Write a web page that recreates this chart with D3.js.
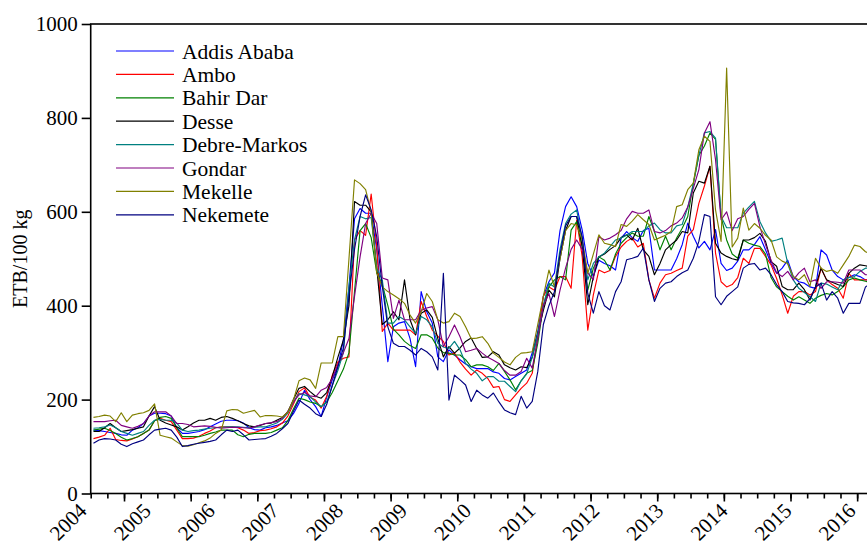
<!DOCTYPE html>
<html>
<head>
<meta charset="utf-8">
<script src="https://cdn.jsdelivr.net/npm/d3@7"></script>
<style>
  body { margin: 0; background: #fff; }
  text { font-family: "Liberation Serif", "Times New Roman", serif; }
</style>
</head>
<body>
<div id="chart"></div>
<script>
// monthly prices, ETB/100 kg, from 2004M01
const addisAbaba = [
  135,134,132,130,128,125,124,135,140,149,
  165,171,171,170,165,140,128,128,130,132,
  136,142,148,154,156,156,155,150,140,136,
  135,140,142,145,150,155,170,192,220,200,
  185,164,206,242,270,327,440,585,607,597,
  597,520,400,281,355,363,366,330,270,430,
  387,363,291,281,306,295,285,276,270,266,
  266,266,259,256,245,242,249,256,263,300,
  345,420,451,470,560,611,632,611,561,490,
  462,497,490,485,476,544,558,545,537,560,
  565,476,476,476,476,500,530,576,548,523,
  537,519,562,490,475,480,495,519,519,530,
  547,519,490,469,480,497,462,451,448,440,
  437,519,508,476,462,455,460,466,462,455,455];
const ambo = [
  117,120,124,139,115,113,112,116,121,128,
  135,155,160,156,153,135,117,117,118,122,
  128,133,140,142,142,142,140,135,128,130,
  134,135,138,142,150,165,190,217,225,205,
  199,182,207,252,280,288,291,540,560,550,
  638,526,345,363,348,348,348,348,338,409,
  377,348,335,324,295,299,280,265,252,263,
  256,245,226,228,200,196,210,224,235,256,
  334,420,440,433,462,462,437,582,504,348,
  423,476,470,475,505,525,537,544,525,533,
  455,416,448,466,469,475,480,548,562,618,
  655,697,512,451,440,445,460,501,490,522,
  522,505,487,458,423,384,420,430,430,423,
  430,480,455,445,437,416,469,455,455,455,455];
const bahirDar = [
  135,137,139,134,128,120,114,117,121,128,
  135,155,162,164,160,140,121,121,121,121,
  124,128,131,135,135,135,125,121,126,128,
  128,128,130,135,140,155,180,203,200,195,
  192,185,195,215,240,265,300,430,560,575,
  545,470,445,400,350,338,324,315,309,338,
  338,331,310,300,299,295,295,285,270,274,
  274,270,262,277,260,242,221,240,256,262,
  320,400,440,455,462,455,561,579,526,433,
  480,504,497,476,510,533,545,555,548,548,
  590,558,519,548,519,544,565,590,660,720,
  740,768,754,590,540,510,501,540,533,529,
  526,510,460,440,430,420,412,419,412,405,
  416,422,426,423,430,440,455,459,455,452,450];
const desse = [
  132,132,140,149,140,132,134,136,139,142,
  165,185,156,150,146,142,135,142,150,156,
  156,160,156,162,164,160,155,149,144,142,
  145,149,150,156,162,174,200,224,228,217,
  207,203,215,249,290,327,400,622,614,614,
  600,480,360,370,387,370,455,370,338,384,
  391,375,330,291,313,299,310,324,331,309,
  290,291,302,295,274,268,263,270,268,290,
  341,390,433,419,500,560,590,590,526,402,
  462,504,510,520,528,545,551,540,565,519,
  505,466,490,519,530,540,558,555,640,665,
  661,697,533,512,505,500,497,540,540,545,
  554,537,494,484,441,434,434,448,434,412,
  440,480,455,450,445,441,469,480,487,485,483];
const debreMarkos = [
  139,140,142,146,140,132,128,124,128,132,
  145,156,158,156,156,150,135,132,134,135,
  137,139,140,141,142,142,142,141,140,141,
  142,142,146,150,158,171,195,213,210,206,
  195,185,195,230,262,300,440,540,590,585,
  588,480,455,363,363,377,370,355,341,377,
  370,355,320,312,309,324,306,277,265,256,
  240,249,249,239,239,228,217,240,255,290,
  340,400,448,440,520,575,595,604,540,455,
  490,504,512,526,540,544,550,558,558,558,
  570,576,562,555,555,570,573,610,660,720,
  768,771,757,590,566,566,566,597,610,622,
  579,555,537,540,544,490,455,437,428,419,
  409,448,446,440,434,455,460,462,473,480,480];
const gondar = [
  153,153,153,155,156,145,142,139,143,149,
  165,174,174,174,165,149,149,147,142,143,
  144,143,141,139,140,141,141,140,139,142,
  146,149,151,153,160,175,195,210,215,208,
  206,220,226,245,275,300,330,420,504,575,
  597,575,459,455,373,412,370,370,370,390,
  395,398,370,313,334,359,334,302,305,309,
  299,290,284,277,262,252,252,260,288,267,
  330,400,426,377,433,480,520,540,520,470,
  455,547,540,544,551,560,585,601,597,597,
  604,558,555,560,570,576,587,610,650,690,
  768,792,711,583,600,560,585,590,605,618,
  568,530,497,470,462,473,455,470,480,451,
  455,437,451,451,450,448,476,476,476,466,466];
const mekelle = [
  162,164,167,165,153,172,153,167,170,172,
  177,191,124,121,118,110,102,101,104,108,
  112,118,128,135,176,179,178,171,174,177,
  163,166,166,165,163,173,199,240,246,242,
  224,278,278,278,334,334,500,668,660,647,
  600,470,440,430,423,415,405,380,363,387,
  426,409,370,363,366,384,377,355,330,331,
  334,320,299,290,280,274,290,299,300,302,
  360,420,476,440,500,560,575,572,540,469,
  510,551,533,530,526,573,569,580,594,583,
  573,540,545,550,558,611,615,647,661,732,
  761,750,604,537,906,525,544,608,561,575,
  565,550,540,504,495,490,462,455,466,441,
  501,480,473,476,469,487,505,529,526,515,510];
const nekemete = [
  107,114,117,116,114,105,100,106,110,114,
  125,135,137,139,135,120,100,102,105,107,
  109,111,114,125,135,132,135,125,114,115,
  116,117,122,128,138,149,175,199,190,182,
  170,164,190,230,270,310,420,520,590,636,
  604,547,441,355,320,313,313,305,295,309,
  302,291,263,469,199,252,242,231,196,220,
  210,203,214,195,178,172,168,207,182,196,
  260,360,400,430,510,570,590,590,547,426,
  384,430,400,391,430,451,498,501,505,523,
  455,409,437,448,451,462,470,476,501,537,
  594,590,419,402,420,430,440,480,488,490,
  476,480,466,445,430,409,406,405,402,415,
  440,448,412,430,416,384,405,405,405,440,448];

const cityNames = ["Addis Ababa", "Ambo", "Bahir Dar", "Desse", "Debre-Markos", "Gondar", "Mekelle", "Nekemete"];
const cityColours = ["#0000ff", "#ff0000", "#008000", "#000000", "#008080", "#800080", "#808000", "#000080"];
const citySeries = [addisAbaba, ambo, bahirDar, desse, debreMarkos, gondar, mekelle, nekemete];

const yearLabels = ["2004","2005","2006","2007","2008","2009","2010","2011","2012","2013","2014","2015","2016"];
const yTicks = [0, 200, 400, 600, 800, 1000];

const width = 867, height = 548;
const plotLeft = 90.7, plotTop = 24, plotBottom = 493.5;
const monthWidth = 5.554;
const nMonths = addisAbaba.length;
const plotRight = plotLeft + nMonths * monthWidth;   // runs past the window edge

const x = d3.scaleLinear().domain([0, nMonths]).range([plotLeft, plotRight]);
const y = d3.scaleLinear().domain([0, 1000]).range([plotBottom, plotTop]);

const svg = d3.select("#chart")
  .append("svg")
  .attr("width", width)
  .attr("height", height)
  .style("display", "block");

svg.append("rect").attr("width", width).attr("height", height).attr("fill", "#fff");

svg.append("clipPath")
  .attr("id", "plotClip")
  .append("rect")
  .attr("x", plotLeft)
  .attr("y", plotTop)
  .attr("width", plotRight - plotLeft)
  .attr("height", plotBottom - plotTop);

const line = d3.line()
  .x((d, i) => x(i + 0.5))
  .y(d => y(d));

svg.append("g")
  .attr("clip-path", "url(#plotClip)")
  .selectAll("path")
  .data(citySeries)
  .enter()
  .append("path")
  .attr("d", line)
  .attr("fill", "none")
  .attr("stroke", (d, i) => cityColours[i])
  .attr("stroke-width", 1.15)
  .attr("stroke-linejoin", "round");

// frame
svg.append("rect")
  .attr("x", plotLeft)
  .attr("y", plotTop)
  .attr("width", plotRight - plotLeft)
  .attr("height", plotBottom - plotTop)
  .attr("fill", "none")
  .attr("stroke", "#000")
  .attr("stroke-width", 1.6);

// y axis
const yAxis = svg.append("g")
  .attr("transform", `translate(${plotLeft},0)`)
  .call(d3.axisLeft(y).tickValues(yTicks).tickSize(9).tickPadding(4).tickFormat(d3.format("d")));
yAxis.select(".domain").remove();
yAxis.selectAll("line").attr("stroke-width", 1.6);
yAxis.selectAll("text")
  .style("font-family", '"Liberation Serif", "Times New Roman", serif')
  .style("font-size", "21px")
  .attr("fill", "#000");

// x axis: quarter ticks and longer year ticks
const minorTicks = d3.range(0, nMonths + 1, 3);
const majorTicks = d3.range(6, nMonths, 12);

const xMinor = svg.append("g")
  .attr("transform", `translate(0,${plotBottom})`)
  .call(d3.axisBottom(x).tickValues(minorTicks).tickSize(5).tickFormat(""));
xMinor.select(".domain").remove();
xMinor.selectAll("line").attr("stroke-width", 1.6);

const xMajor = svg.append("g")
  .attr("transform", `translate(0,${plotBottom})`)
  .call(d3.axisBottom(x).tickValues(majorTicks).tickSize(8).tickFormat(""));
xMajor.select(".domain").remove();
xMajor.selectAll("line").attr("stroke-width", 1.6);

const labelX = d3.scalePoint().domain(yearLabels).range([88, 857]);

svg.append("g")
  .selectAll("text")
  .data(yearLabels)
  .enter()
  .append("text")
  .attr("transform", d => `translate(${labelX(d)},512)rotate(-45)`)
  .attr("text-anchor", "end")
  .style("font-size", "21px")
  .attr("fill", "#000")
  .text(d => d);

// y title
svg.append("text")
  .attr("transform", `translate(27,${(plotTop + plotBottom) / 2})rotate(-90)`)
  .attr("text-anchor", "middle")
  .style("font-size", "20px")
  .attr("fill", "#000")
  .text("ETB/100 kg");

// legend
const legend = svg.append("g")
  .selectAll("g")
  .data(cityNames)
  .enter()
  .append("g")
  .attr("transform", (d, i) => `translate(116,${51 + i * 23.4})`);

legend.append("line")
  .attr("x1", 0)
  .attr("x2", 58)
  .attr("stroke", (d, i) => cityColours[i])
  .attr("stroke-width", 1.2);

legend.append("text")
  .attr("x", 66)
  .attr("dy", "0.35em")
  .style("font-size", "21.5px")
  .attr("fill", "#000")
  .text(d => d);
</script>
</body>
</html>
